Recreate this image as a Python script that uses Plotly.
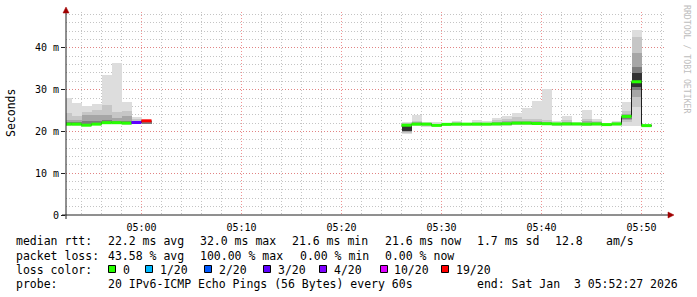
import plotly.graph_objects as go
from datetime import datetime, timedelta

DAY = "2026-01-03 "

# ---------------- data ----------------
times = ["04:52", "04:53", "04:54", "04:55", "04:56", "04:57", "04:58", "04:59", "05:00",
         "05:26", "05:27", "05:28", "05:29", "05:30", "05:31", "05:32", "05:33", "05:34",
         "05:35", "05:36", "05:37", "05:38", "05:39", "05:40", "05:41", "05:42", "05:43",
         "05:44", "05:45", "05:46", "05:47", "05:48", "05:49", "05:50"]

median = [21.75, 21.75, 21.5, 21.75, 22.1, 22.1, 22.0, 22.15, 22.55,
          21.5, 21.75, 21.75, 21.45, 21.7, 21.75, 21.75, 21.75, 21.75,
          21.8, 21.85, 22.0, 22.0, 21.9, 21.85, 21.8, 21.8, 21.8,
          21.75, 21.8, 21.65, 21.8, 23.6, 31.9, 21.4]

loss = [0, 0, 0, 0, 0, 0, 0, 3, 19,
        0, 0, 0, 0, 0, 0, 0, 0, 0,
        0, 0, 0, 0, 0, 0, 0, 0, 0,
        0, 0, 0, 0, 0, 0, 0]

# smoke bands (outer -> inner), ms
band1_lo = [21.2, 21.4, 21.2, 21.5, 21.8, 21.8, 21.6, 21.9, 21.7,
            19.4, 21.4, 21.1, 21.2, 21.4, 21.4, 21.4, 21.4, 21.4,
            21.4, 21.4, 21.5, 21.5, 21.5, 21.5, 21.2, 21.4, 21.4,
            21.3, 21.4, 21.3, 21.4, 21.3, 21.3, 21.2]
band1_hi = [28.1, 26.9, 26.2, 26.6, 33.5, 36.4, 27.1, 23.5, 22.6,
            22.3, 24.0, 22.35, 22.2, 22.1, 22.5, 22.1, 22.75, 22.5,
            23.2, 23.75, 24.5, 25.5, 27.3, 30.2, 22.5, 23.8, 22.35,
            25.1, 23.0, 22.0, 22.6, 27.1, 44.3, 21.7]
band2_lo = [21.5, 21.6, 21.4, 21.6, 21.9, 21.9, 21.7, 22.0, 21.7,
            19.7, 21.5, 21.3, 21.3, 21.5, 21.5, 21.5, 21.5, 21.5,
            21.5, 21.5, 21.6, 21.6, 21.6, 21.6, 21.4, 21.5, 21.5,
            21.4, 21.5, 21.4, 21.5, 22.3, 25.9, 21.3]
band2_hi = [24.4, 23.6, 24.7, 25.1, 26.3, 24.7, 25.0, 22.9, 22.4,
            22.0, 22.6, 22.1, 21.9, 22.0, 22.3, 22.0, 22.3, 22.1,
            22.7, 23.0, 23.5, 22.9, 22.9, 22.7, 22.1, 22.7, 22.1,
            22.9, 22.5, 21.9, 22.2, 25.0, 42.7, 21.6]
band3_lo = [21.6, 21.7, 21.5, 21.7, 22.0, 22.0, 21.8, 22.1, 21.7,
            19.9, 21.6, 21.5, 21.35, 21.6, 21.6, 21.6, 21.6, 21.6,
            21.6, 21.6, 21.8, 21.8, 21.7, 21.7, 21.6, 21.6, 21.6,
            21.5, 21.6, 21.5, 21.6, 22.8, 28.3, 21.3]
band3_hi = [22.8, 22.7, 23.9, 24.0, 24.0, 23.2, 23.8, 22.6, 22.4,
            21.8, 22.2, 22.0, 21.7, 21.9, 22.1, 21.9, 22.0, 22.0,
            22.3, 22.5, 22.6, 22.4, 22.4, 22.3, 22.0, 22.2, 22.0,
            22.4, 22.2, 21.8, 22.0, 24.2, 38.7, 21.5]
band4_lo = [21.7, 21.8, 21.6, 21.8, 22.0, 22.0, 21.9, 22.1, 21.7,
            20.0, 21.7, 21.6, 21.4, 21.6, 21.7, 21.7, 21.7, 21.7,
            21.7, 21.7, 21.9, 21.9, 21.8, 21.8, 21.7, 21.7, 21.7,
            21.5, 21.7, 21.6, 21.7, 23.1, 30.0, 21.35]
band4_hi = [22.2, 22.3, 22.6, 22.6, 22.8, 22.6, 22.6, 22.4, 22.4,
            21.6, 21.9, 21.9, 21.6, 21.8, 21.9, 21.8, 21.9, 21.9,
            22.0, 22.1, 22.3, 22.2, 22.1, 22.0, 21.9, 21.9, 21.9,
            22.0, 21.9, 21.7, 21.9, 24.0, 35.5, 21.45]
band5_lo = [None, None, None, None, None, None, None, None, None,
            20.0, None, None, None, None, None, None, None, None,
            None, None, None, None, None, None, None, None, None,
            None, None, None, None, None, 30.7, None]
band5_hi = [None, None, None, None, None, None, None, None, None,
            21.2, None, None, None, None, None, None, None, None,
            None, None, None, None, None, None, None, None, None,
            None, None, None, None, None, 34.0, None]
band_colors = ["#dddddd", "#c6c6c6", "#a6a6a6", "#7c7c7c", "#323232"]

loss_levels = [0, 1, 2, 3, 4, 10, 19]
loss_labels = ["0", "1/20", "2/20", "3/20", "4/20", "10/20", "19/20"]
loss_colors = ["#26ff00", "#00b8ff", "#0059ff", "#5e00ff", "#7e00ff", "#dd00ff", "#ff0000"]

y_ticks = [0, 10, 20, 30, 40]
y_ticktext = ["0", "10 m", "20 m", "30 m", "40 m"]

stats_rtt = ["median rtt:", "22.2 ms avg", "32.0 ms max", "21.6 ms min", "21.6 ms now",
             "1.7 ms sd", "12.8", "am/s"]
stats_loss = ["packet loss:", "43.58 % avg", "100.00 % max", "0.00 % min", "0.00 % now"]
probe_text = ["probe:", "20 IPv6-ICMP Echo Pings (56 Bytes) every 60s",
              "end: Sat Jan\u00a0\u00a03 05:52:27 2026"]

# ---------------- helpers ----------------
W, H = 697, 297
L, R, T, B = 66, 31, 12, 82
PW, PH = W - L - R, H - T - B


def px(x):
    return (x - L) / PW


def py(y):
    return (T + PH - y) / PH


t0 = [datetime.strptime(DAY + t, "%Y-%m-%d %H:%M") for t in times]
MIN = 60000
ONE = timedelta(minutes=1)
MONO = "DejaVu Sans Mono"

fig = go.Figure()

bands = [(band1_lo, band1_hi), (band2_lo, band2_hi), (band3_lo, band3_hi),
         (band4_lo, band4_hi), (band5_lo, band5_hi)]
for (lo, hi), col in zip(bands, band_colors):
    xs, bs, hs = [], [], []
    for t, a, b in zip(t0, lo, hi):
        if a is None or b is None:
            continue
        xs.append(t)
        bs.append(a)
        hs.append(b - a)
    fig.add_trace(go.Bar(x=xs, y=hs, base=bs, width=MIN, offset=0,
                         marker=dict(color=col, line=dict(width=0)),
                         hoverinfo="skip", showlegend=False))

# black median step line
lx, ly = [], []
for i, (t, m) in enumerate(zip(t0, median)):
    lx.append(t)
    ly.append(m)
    last = i == len(t0) - 1 or (t0[i + 1] - t) > ONE
    if last:
        lx.append(t + ONE)
        ly.append(m)
        lx.append(None)
        ly.append(None)
fig.add_trace(go.Scatter(x=lx, y=ly, mode="lines", line=dict(color="#202020", width=1, shape="hv"),
                         hoverinfo="skip", showlegend=False, connectgaps=False))


def loss_color(n):
    c = loss_colors[0]
    for lv, cc in zip(loss_levels, loss_colors):
        if n >= lv:
            c = cc
    return c


# coloured median segments (one trace per loss colour)
groups = {}
for t, m, n in zip(t0, median, loss):
    c = loss_color(n)
    gx, gy = groups.setdefault(c, ([], []))
    gx += [t, t + ONE, None]
    gy += [m, m, None]
for c, (gx, gy) in groups.items():
    fig.add_trace(go.Scatter(x=gx, y=gy, mode="lines", line=dict(color=c, width=3),
                             hoverinfo="skip", showlegend=False, connectgaps=False))

major_grid = "rgba(235,110,110,0.75)"
minor_grid = "#c4c4c4"
dash = "1px,2px"

fig.update_layout(
    width=W, height=H, margin=dict(l=L, r=R, t=T, b=B),
    paper_bgcolor="white", plot_bgcolor="white",
    barmode="overlay", bargap=0, showlegend=False,
    font=dict(family=MONO, color="#000000"),
    xaxis=dict(type="date", range=[DAY + "04:52:27", DAY + "05:52:27"],
               tick0=DAY + "05:00", dtick=10 * MIN, tickformat="%H:%M",
               showgrid=True, gridcolor=major_grid, griddash=dash, gridwidth=1,
               ticks="outside", ticklen=3, tickcolor="rgba(0,0,0,0)",
               tickfont=dict(family=MONO, size=10, color="#000"),
               minor=dict(tick0=DAY + "05:00", dtick=2 * MIN, showgrid=True,
                          gridcolor=minor_grid, griddash=dash, gridwidth=1),
               showline=False, zeroline=False, fixedrange=True),
    yaxis=dict(range=[0, 48.6], tickvals=y_ticks, ticktext=y_ticktext,
               showgrid=True, gridcolor=major_grid, griddash=dash, gridwidth=1,
               ticks="outside", ticklen=4, tickcolor="#202020",
               tickfont=dict(family=MONO, size=10, color="#000"),
               minor=dict(dtick=2, showgrid=True, gridcolor=minor_grid,
                          griddash=dash, gridwidth=1),
               showline=False, zeroline=False, fixedrange=True),
)

shapes = []
# axis lines
shapes.append(dict(type="line", xref="paper", yref="paper", x0=px(62), x1=px(669),
                   y0=0, y1=0, line=dict(color="#202020", width=1)))
shapes.append(dict(type="line", xref="paper", yref="paper", x0=0, x1=0,
                   y0=py(219), y1=py(11), line=dict(color="#202020", width=1)))
# arrows
shapes.append(dict(type="path", xref="paper", yref="paper",
                   path=f"M {px(668)},{py(212)} L {px(674)},{py(215)} L {px(668)},{py(218)} Z",
                   fillcolor="#a00000", line=dict(color="#a00000", width=0.5)))
shapes.append(dict(type="path", xref="paper", yref="paper",
                   path=f"M {px(63)},{py(13)} L {px(66)},{py(7)} L {px(69)},{py(13)} Z",
                   fillcolor="#a00000", line=dict(color="#a00000", width=0.5)))

annotations = []
LEG_SIZE = 11.5


def txt(x, y, s, size=LEG_SIZE, **kw):
    d = dict(x=px(x), y=py(y), xref="paper", yref="paper", text=s, showarrow=False,
             xanchor="left", yanchor="middle", borderpad=0,
             font=dict(family=MONO, size=size, color="#000"))
    d.update(kw)
    annotations.append(d)


rtt_x = [15, 107, 199, 291, 384, 476, 554, 605]
for x, s in zip(rtt_x, stats_rtt):
    txt(x, 241, s)
loss_x = [15, 107, 199, 299, 384]
for x, s in zip(loss_x, stats_loss):
    txt(x, 255.5, s)
txt(15, 269.5, "loss color:")
box_x = [108.5, 145.5, 204.5, 263.5, 319.5, 380.5, 441.5]
for bx, lab, col in zip(box_x, loss_labels, loss_colors):
    shapes.append(dict(type="rect", xref="paper", yref="paper",
                       x0=px(bx), x1=px(bx + 7), y0=py(272.5), y1=py(265.5),
                       fillcolor=col, line=dict(color="#000", width=1)))
    txt(bx + 13, 269.5, lab)
probe_x = [15, 107, 476]
for x, s in zip(probe_x, probe_text):
    txt(x, 284, s)

# y title
annotations.append(dict(x=px(11), y=py(113), xref="paper", yref="paper", text="Seconds",
                        showarrow=False, textangle=-90, xanchor="center", yanchor="middle",
                        font=dict(family=MONO, size=LEG_SIZE, color="#000")))
# watermark
annotations.append(dict(x=px(687), y=py(59), xref="paper", yref="paper",
                        text="RRDTOOL / TOBI OETIKER", showarrow=False, textangle=90,
                        xanchor="center", yanchor="middle",
                        font=dict(family=MONO, size=8.2, color="#bdbdbd")))

fig.update_layout(shapes=shapes, annotations=annotations)
fig.write_html("out.html")
